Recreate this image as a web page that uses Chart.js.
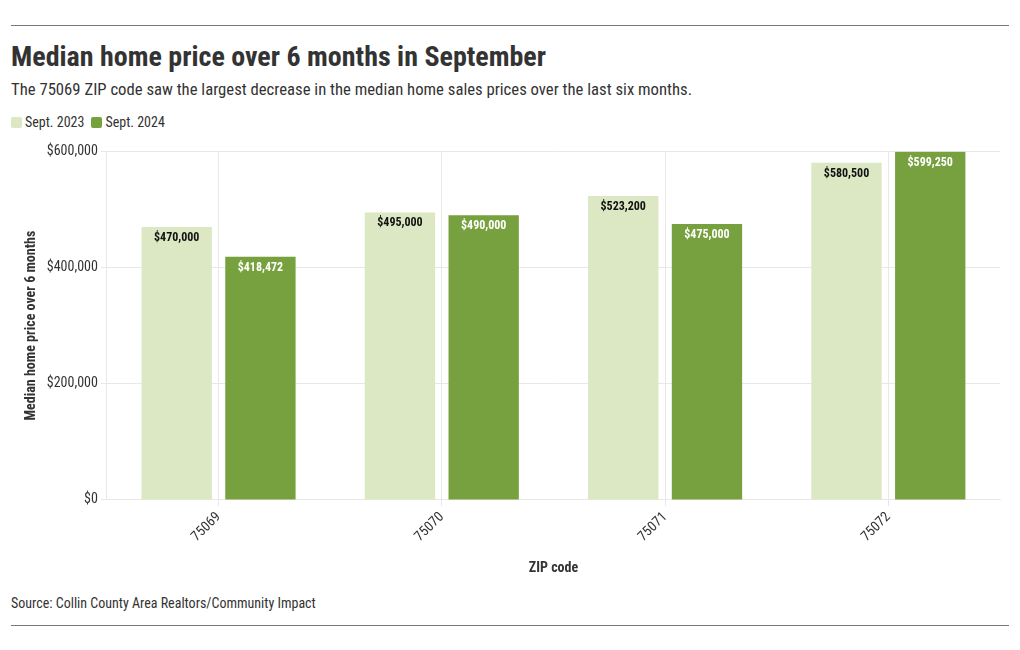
<!DOCTYPE html>
<html>
<head>
<meta charset="utf-8">
<script src="https://cdn.jsdelivr.net/npm/chart.js@4"></script>
<style>
  body { margin: 0; background: #fff; font-family: 'Roboto Condensed', 'Liberation Sans Narrow', Roboto, sans-serif; color: #333; }
  .wrap { width: 1020px; height: 650px; position: relative; }
  .rule { position: absolute; left: 11px; width: 998px; height: 1px; background: #777; }
  h1 { position: absolute; left: 11px; top: 40px; margin: 0; font-size: 28px; font-weight: bold; color: #333; }
  .sub { position: absolute; left: 11px; top: 80px; font-size: 16.7px; color: #333; }
  .legend { position: absolute; left: 11px; top: 114px; font-size: 14px; color: #333; display: flex; }
  .legend span { display: flex; align-items: center; margin-right: 7px; }
  .legend i { width: 11px; height: 11px; border-radius: 2px; margin-right: 3px; display: inline-block; }
  .src { position: absolute; left: 11px; top: 595px; font-size: 14px; color: #333; }
  #box { position: absolute; left: 0; top: 140px; width: 1020px; height: 437px; }
</style>
</head>
<body>
<div class="wrap">
  <div class="rule" style="top:25px"></div>
  <h1>Median home price over 6 months in September</h1>
  <div class="sub">The 75069 ZIP code saw the largest decrease in the median home sales prices over the last six months.</div>
  <div class="legend" id="legend"></div>
  <div id="box"><canvas id="chart"></canvas></div>
  <div class="src">Source: Collin County Area Realtors/Community Impact</div>
  <div class="rule" style="top:625px"></div>
</div>
<script>
// data
const zipCodes = ['75069', '75070', '75071', '75072'];
const seriesNames = ['Sept. 2023', 'Sept. 2024'];
const sept2023 = [470000, 495000, 523200, 580500];
const sept2024 = [418472, 490000, 475000, 599250];
const yTicks = [0, 200000, 400000, 600000];
const colors = ['#dce7c4', '#77a13e'];

const FONT = "'Roboto Condensed', 'Liberation Sans Narrow', Roboto, sans-serif";

function money(v) {
    return '$' + v.toLocaleString('en-US');
}

// legend
const legendEl = document.getElementById('legend');
seriesNames.forEach((name, i) => {
    const item = document.createElement('span');
    item.innerHTML = '<i style="background:' + colors[i] + '"></i>' + name;
    legendEl.appendChild(item);
});

// labels inside top of bars
const barLabels = {
    id: 'barLabels',
    afterDatasetsDraw(chart) {
        const ctx = chart.ctx;
        ctx.save();
        ctx.font = 'bold 12px ' + FONT;
        ctx.textAlign = 'center';
        ctx.textBaseline = 'middle';
        chart.data.datasets.forEach((ds, i) => {
            const meta = chart.getDatasetMeta(i);
            meta.data.forEach((bar, j) => {
                ctx.fillStyle = i === 0 ? '#111' : '#fff';
                ctx.fillText(money(ds.data[j]), bar.x, bar.y + 11);
            });
        });
        ctx.restore();
    }
};

new Chart(document.getElementById('chart'), {
    type: 'bar',
    data: {
        labels: zipCodes,
        datasets: [
            { label: seriesNames[0], data: sept2023, backgroundColor: colors[0] },
            { label: seriesNames[1], data: sept2024, backgroundColor: colors[1] }
        ]
    },
    options: {
        responsive: true,
        maintainAspectRatio: false,
        animation: false,
        categoryPercentage: 0.75,
        barPercentage: 0.84,
        layout: { padding: { left: 19, right: 20, top: 11, bottom: 0 } },
        plugins: {
            legend: { display: false },
            tooltip: { enabled: false }
        },
        scales: {
            x: {
                grid: { offset: false, color: '#e8e8e8', tickLength: 6 },
                border: { color: '#e8e8e8' },
                ticks: { minRotation: 45, maxRotation: 45, color: '#333', font: { family: FONT, size: 14 } },
                title: { display: true, text: 'ZIP code', color: '#333', padding: { top: 12, bottom: 0 }, font: { family: FONT, size: 14, weight: 'bold' } }
            },
            y: {
                min: 0,
                max: 600000,
                afterBuildTicks(axis) { axis.ticks = yTicks.map(v => ({ value: v })); },
                grid: { color: '#e8e8e8', tickLength: 6 },
                border: { color: '#e8e8e8' },
                ticks: { color: '#333', font: { family: FONT, size: 14 }, callback: v => money(v) },
                title: { display: true, text: 'Median home price over 6 months', color: '#333', font: { family: FONT, size: 14, weight: 'bold' } }
            }
        }
    },
    plugins: [barLabels]
});
</script>
</body>
</html>
